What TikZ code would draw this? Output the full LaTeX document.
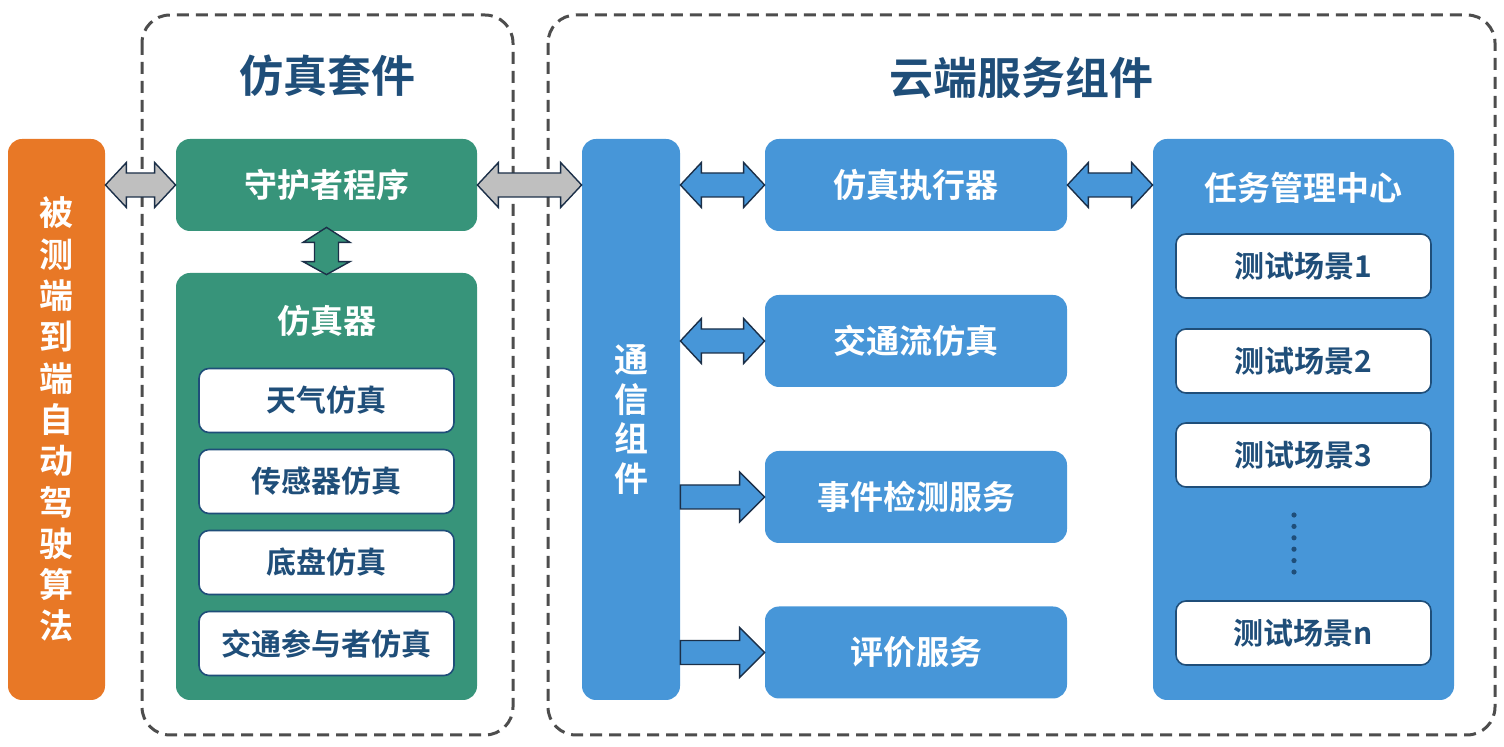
\documentclass[tikz,border=0pt]{standalone}
\usepackage{fontspec}
\setmainfont{Noto Sans CJK SC}[BoldFont={Noto Sans CJK SC Bold}]
\usepackage{xcolor}
\usetikzlibrary{calc}

\definecolor{orng}{HTML}{E87826}
\definecolor{grn}{HTML}{37947A}
\definecolor{blu}{HTML}{4796D8}
\definecolor{navy}{HTML}{1F4E79}
\definecolor{edge}{HTML}{1B2F48}
\definecolor{dash}{HTML}{4D4D4D}

\tikzset{
  box/.style={rounded corners=7pt, inner sep=0pt, font=\bfseries\fontsize{16.5}{18}\selectfont, text=white},
  gbox/.style={box, fill=grn},
  bbox/.style={box, fill=blu},
  item/.style={draw=navy, line width=0.8pt, fill=white, rounded corners=5pt, inner sep=0pt,
    minimum width=127.5pt, minimum height=32pt, text=navy, font=\bfseries\fontsize{15}{17}\selectfont},
  group/.style={draw=dash, line width=1.5pt, dash pattern=on 6pt off 3.5pt, rounded corners=14pt},
  title/.style={text=navy, font=\bfseries\fontsize{22}{24}\selectfont},
  blk/.style={draw=edge, line width=0.7pt, line join=miter},
}

% block arrows, horizontal and vertical
\newcommand\harr[3]{%
  \draw[blk,#1] let \p1=#2, \p2=#3 in
    (\x1,\y1) -- (\x1+10.5pt,\y1+11.25pt) -- (\x1+10.5pt,\y1+6pt) -- (\x2-10.5pt,\y1+6pt)
    -- (\x2-10.5pt,\y1+11.25pt) -- (\x2,\y1) -- (\x2-10.5pt,\y1-11.25pt) -- (\x2-10.5pt,\y1-6pt)
    -- (\x1+10.5pt,\y1-6pt) -- (\x1+10.5pt,\y1-11.25pt) -- cycle;}
\newcommand\sarr[3]{%
  \draw[blk,#1] let \p1=#2, \p2=#3 in
    (\x1,\y1+6pt) -- (\x2-12.5pt,\y1+6pt) -- (\x2-12.5pt,\y1+12.5pt) -- (\x2,\y1)
    -- (\x2-12.5pt,\y1-12.5pt) -- (\x2-12.5pt,\y1-6pt) -- (\x1,\y1-6pt) -- cycle;}
\newcommand\varr[3]{%
  \draw[blk,#1] let \p1=#2, \p2=#3 in
    (\x1,\y1+2pt) -- (\x1+11.75pt,\y1-5.5pt) -- (\x1+6pt,\y1-5.5pt) -- (\x1+6pt,\y2+5.5pt)
    -- (\x1+11.75pt,\y2+5.5pt) -- (\x1,\y2-1pt) -- (\x1-11.75pt,\y2+5.5pt) -- (\x1-6pt,\y2+5.5pt)
    -- (\x1-6pt,\y1-5.5pt) -- (\x1-11.75pt,\y1-5.5pt) -- cycle;}

\begin{document}
\begin{tikzpicture}[x=0.5pt, y=-0.5pt]
  \useasboundingbox (0,0) rectangle (1504,747);

  % dashed groups
  \draw[group] (142,15) rectangle (513,735);
  \draw[group] (548,15) rectangle (1495,735);
  \node[title] (t1) at (327,76) {仿真套件};
  \node[title] (t2) at (1021,78) {云端服务组件};

  % algorithm under test
  \node[box, fill=orng, minimum width=48.5pt, minimum height=280.5pt,
    align=center, font=\bfseries\fontsize{17}{20.65}\selectfont] (alg) at (56.5,419.5)
    {被\\测\\端\\到\\端\\自\\动\\驾\\驶\\算\\法};

  % simulation suite
  \node[gbox, minimum width=150.5pt, minimum height=46pt] (guard) at (326.5,185) {守护者程序};
  \node[gbox, minimum width=150.5pt, minimum height=213.5pt] (sim) at (326.5,486.5) {};
  \node[text=white, font=\bfseries\fontsize{16.5}{18}\selectfont] (simt) at (326.5,321) {仿真器};
  \node[item] (s1) at (326.5,400.5) {天气仿真};
  \node[item] (s2) at (326.5,481.5) {传感器仿真};
  \node[item] (s3) at (326.5,562.5) {底盘仿真};
  \node[item] (s4) at (326.5,643.5) {交通参与者仿真};

  % cloud services
  \node[bbox, minimum width=49pt, minimum height=280.5pt, align=center,
    font=\bfseries\fontsize{17}{19.75}\selectfont] (comm) at (631,419.5) {通\\信\\组\\件};
  \node[bbox, minimum width=151pt, minimum height=46pt] (exec) at (916,185) {仿真执行器};
  \node[bbox, minimum width=151pt, minimum height=46pt] (traf) at (916,341) {交通流仿真};
  \node[bbox, minimum width=151pt, minimum height=46pt] (evt) at (916,497) {事件检测服务};
  \node[bbox, minimum width=151pt, minimum height=46pt] (eval) at (916,652.5) {评价服务};

  \node[bbox, minimum width=150.5pt, minimum height=280.5pt] (task) at (1303.5,419.5) {};
  \node[text=white, font=\bfseries\fontsize{16.5}{18}\selectfont] (taskt) at (1303.5,188) {任务管理中心};
  \node[item] (c1) at (1303.5,266) {测试场景1};
  \node[item] (c2) at (1303.5,361) {测试场景2};
  \node[item] (c3) at (1303.5,455) {测试场景3};
  \node[item] (cn) at (1303.5,633) {测试场景n};
  \foreach \i in {0,...,5}
    \fill[navy] (1294,515+11.4*\i) circle (1.3pt);

  % connectors
  \harr{fill=black!25}{(alg.east |- guard.west)}{(guard.west)}
  \harr{fill=black!25}{(guard.east)}{(comm.west |- guard.east)}
  \varr{fill=grn}{(guard.south)}{(sim.north)}
  \harr{fill=blu}{(comm.east |- exec.west)}{(exec.west)}
  \harr{fill=blu}{(comm.east |- traf.west)}{(traf.west)}
  \sarr{fill=blu}{(comm.east |- evt.west)}{(evt.west)}
  \sarr{fill=blu}{(comm.east |- eval.west)}{(eval.west)}
  \harr{fill=blu}{(exec.east)}{(task.west |- exec.east)}
\end{tikzpicture}
\end{document}
